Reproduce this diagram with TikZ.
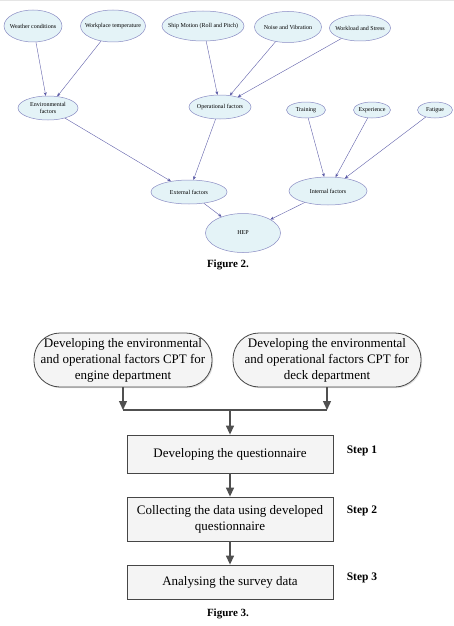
\documentclass[tikz,border=0pt]{standalone}
\usepackage{fontspec}
\setmainfont{Liberation Serif}
\usetikzlibrary{shapes.geometric,arrows.meta,shadows}
\definecolor{ellfill}{RGB}{228,243,247}
\definecolor{ellborder}{RGB}{138,140,196}
\definecolor{edgecol}{RGB}{96,96,170}
\definecolor{tipcol}{RGB}{20,20,120}
\definecolor{boxborder}{RGB}{70,70,70}
\definecolor{boxfill}{RGB}{244,244,244}
\definecolor{arrowcol}{RGB}{80,80,80}
\begin{document}
\begin{tikzpicture}[x=1pt,y=-1pt,
  ell/.style={ellipse, draw=ellborder, fill=ellfill, line width=0.5pt, inner xsep=-6pt, inner ysep=-2pt,
    font=\fontsize{6}{7}\selectfont, align=center},
  conn/.style={-{Stealth[length=3.5pt,width=3pt,fill=tipcol]}, draw=edgecol, line width=0.4pt},
  stepbox/.style={draw=boxborder, line width=0.8pt, fill=boxfill, minimum width=206pt,
    align=center, font=\fontsize{13}{16}\selectfont,
    drop shadow={opacity=0.25, shadow xshift=1.2pt, shadow yshift=-1.2pt}},
  pill/.style={stepbox, rounded corners=26pt, minimum height=54pt},
  arr/.style={-{Triangle[length=9pt,width=8pt]}, draw=arrowcol, line width=1.3pt},
  flow/.style={draw=arrowcol, line width=1.3pt},
  steplabel/.style={font=\fontsize{11.5}{13}\selectfont\bfseries},
  caption/.style={font=\fontsize{11}{13}\selectfont\bfseries}
]
\useasboundingbox (0,0) rectangle (454,626);
\fill[white] (0,0) rectangle (454,626);
\fill[gray!20] (0,0) rectangle (454,1.5);

% ---------- Figure 2 ----------
\node[ell, minimum width=58pt, minimum height=32pt] (wc) at (33,26) {Weather conditions};
\node[ell, minimum width=65pt, minimum height=32pt] (wt) at (113,26) {Workplace temperature};
\node[ell, minimum width=78pt, minimum height=30pt] (sm) at (203,26) {Ship Motion (Roll and Pitch)};
\node[ell, minimum width=67pt, minimum height=31pt] (nv) at (288,27) {Noise and Vibration};
\node[ell, minimum width=61pt, minimum height=26pt] (ws) at (360,28) {Workload and Stress};
\node[ell, minimum width=60pt, minimum height=24pt] (env) at (48,108) {Environmental\\factors};
\node[ell, minimum width=62pt, minimum height=24pt] (op) at (220,107) {Operational factors};
\node[ell, minimum width=39pt, minimum height=16pt] (tr) at (306,110) {Training};
\node[ell, minimum width=37pt, minimum height=16pt] (ex) at (372,110) {Experience};
\node[ell, minimum width=35pt, minimum height=16pt] (fa) at (435,110) {Fatigue};
\node[ell, minimum width=76pt, minimum height=24pt] (ext) at (189,192) {External factors};
\node[ell, minimum width=78pt, minimum height=28pt] (int) at (328,191) {Internal factors};
\node[ell, minimum width=75pt, minimum height=39pt] (hep) at (243,233) {HEP};
\node[caption] (cap2) at (228,265) {Figure 2.};

\draw[conn] (wc) -- (env);
\draw[conn] (wt) -- (env);
\draw[conn] (sm) -- (op);
\draw[conn] (nv) -- (op);
\draw[conn] (ws) -- (op);
\draw[conn] (env) -- (ext);
\draw[conn] (op) -- (ext);
\draw[conn] (tr) -- (int);
\draw[conn] (ex) -- (int);
\draw[conn] (fa) -- (int);
\draw[conn] (ext) -- (hep);
\draw[conn] (int) -- (hep);

% ---------- Figure 3 ----------
\node[pill, minimum width=178pt] (eng) at (123,360)
  {Developing the environmental\\and operational factors CPT for\\engine department};
\node[pill, minimum width=188pt] (deck) at (327,360)
  {Developing the  environmental\\and operational factors CPT for\\deck department};
\node[stepbox, minimum height=38pt] (s1) at (230,454) {Developing the questionnaire};
\node[stepbox, minimum height=44pt] (s2) at (230,519) {Collecting the data using developed\\questionnaire};
\node[stepbox, minimum height=34pt] (s3) at (230,582) {Analysing the survey data};

\coordinate (jl) at (eng.south |- 0,410);
\coordinate (jr) at (deck.south |- 0,410);
\coordinate (jm) at (s1.north |- 0,410);
\draw[arr] (eng.south) -- (jl);
\draw[arr] (deck.south) -- (jr);
\draw[flow] (jl) -- (jr);
\draw[arr] (jm) -- (s1.north);
\draw[arr] (s1.south) -- (s2.north);
\draw[arr] (s2.south) -- (s3.north);

\node[steplabel] (l1) at (362,451) {Step 1};
\node[steplabel] (l2) at (362,511) {Step 2};
\node[steplabel] (l3) at (362,578) {Step 3};
\node[caption] (cap3) at (228,614) {Figure 3.};
\end{tikzpicture}
\end{document}
